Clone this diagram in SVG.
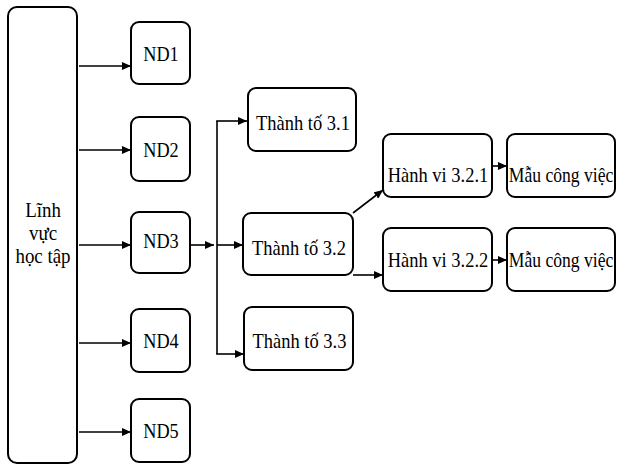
<svg xmlns="http://www.w3.org/2000/svg" width="617" height="465" viewBox="0 0 617 465">
<defs>
<marker id="ah" markerUnits="userSpaceOnUse" markerWidth="9" markerHeight="8" refX="9" refY="4" orient="auto">
<path d="M0,0 L9,4 L0,8 z" fill="#000"/>
</marker>
<style>
.box{fill:#fff;stroke:#000;stroke-width:2}
.c{fill:none;stroke:#000;stroke-width:1.6}
.a{marker-end:url(#ah)}
</style>
</defs>
<rect width="617" height="465" fill="#fff"/>
<g font-family="Liberation Serif, Times New Roman, serif" font-size="22" text-anchor="middle" fill="#000">
<g id="linh-vuc">
<rect class="box" x="8" y="7" width="69" height="456" rx="9"/>
<text transform="translate(43,217) scale(0.86,1)">Lĩnh</text>
<text transform="translate(43,240) scale(0.86,1)">vực</text>
<text transform="translate(43,263) scale(0.86,1)">học tập</text>
</g>
<g id="nd1"><rect class="box" x="131" y="22" width="59" height="62" rx="8"/><text transform="translate(161,61) scale(0.83,1)">ND1</text></g>
<g id="nd2"><rect class="box" x="131" y="117" width="59" height="64" rx="8"/><text transform="translate(161,157) scale(0.83,1)">ND2</text></g>
<g id="nd3"><rect class="box" x="131" y="212" width="59" height="61" rx="8"/><text transform="translate(161,248) scale(0.83,1)">ND3</text></g>
<g id="nd4"><rect class="box" x="131" y="309" width="59" height="63" rx="8"/><text transform="translate(161,348) scale(0.83,1)">ND4</text></g>
<g id="nd5"><rect class="box" x="131" y="399" width="59" height="63" rx="8"/><text transform="translate(161,438) scale(0.83,1)">ND5</text></g>
<g id="tt31"><rect class="box" x="248" y="88" width="108" height="63" rx="8"/><text transform="translate(303,130) scale(0.84,1)">Thành tố 3.1</text></g>
<g id="tt32"><rect class="box" x="243" y="213" width="110" height="62" rx="8"/><text transform="translate(299,255) scale(0.84,1)">Thành tố 3.2</text></g>
<g id="tt33"><rect class="box" x="244" y="307" width="109" height="63" rx="8"/><text transform="translate(299.5,348) scale(0.84,1)">Thành tố 3.3</text></g>
<g id="hv321"><rect class="box" x="383" y="134" width="109" height="63" rx="8"/><text transform="translate(438,182) scale(0.84,1)">Hành vi 3.2.1</text></g>
<g id="mau1"><rect class="box" x="507" y="134" width="108" height="63" rx="8"/><text transform="translate(561,182) scale(0.8,1)">Mẫu công việc</text></g>
<g id="hv322"><rect class="box" x="383" y="228" width="109" height="63" rx="8"/><text transform="translate(438,267) scale(0.84,1)">Hành vi 3.2.2</text></g>
<g id="mau2"><rect class="box" x="507" y="228" width="108" height="63" rx="8"/><text transform="translate(561,267) scale(0.8,1)">Mẫu công việc</text></g>
</g>
<g id="connectors">
<line class="c a" x1="79" y1="66" x2="131" y2="66"/>
<line class="c a" x1="79" y1="150" x2="131" y2="150"/>
<line class="c a" x1="79" y1="245" x2="131" y2="245"/>
<line class="c a" x1="79" y1="343" x2="131" y2="343"/>
<line class="c a" x1="79" y1="432" x2="131" y2="432"/>
<line class="c a" x1="191" y1="245" x2="214" y2="245"/>
<line class="c" x1="217" y1="121" x2="217" y2="354"/>
<line class="c a" x1="216.2" y1="121" x2="247" y2="121"/>
<line class="c a" x1="217" y1="245" x2="243" y2="245"/>
<line class="c a" x1="216.2" y1="354" x2="244" y2="354"/>
<line class="c a" x1="353" y1="213" x2="383" y2="190"/>
<line class="c a" x1="353" y1="275" x2="383" y2="275"/>
<line class="c a" x1="492" y1="166" x2="507" y2="166"/>
<line class="c a" x1="492" y1="260" x2="507" y2="260"/>
</g>
</svg>
